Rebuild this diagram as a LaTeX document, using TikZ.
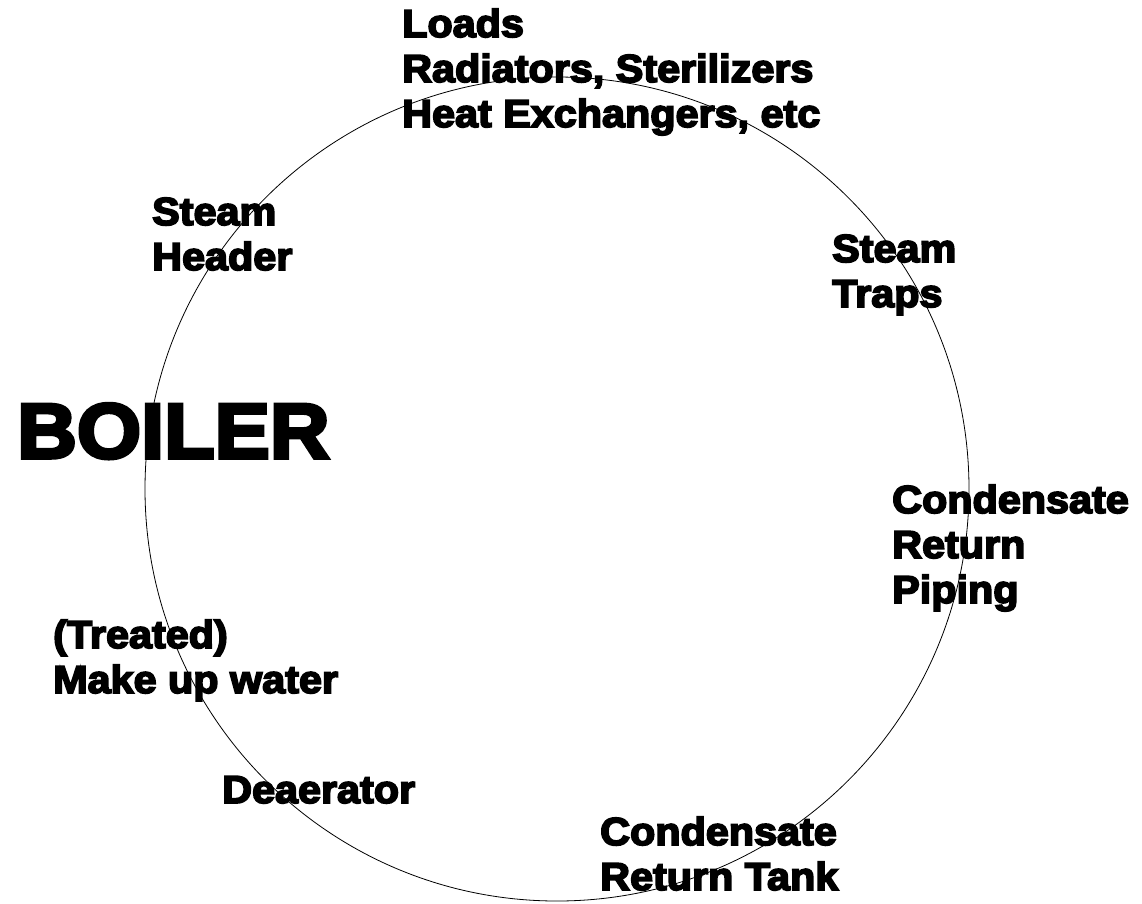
\documentclass[tikz,border=0pt]{standalone}
\usepackage{fontspec}
\newfontfamily\heavyfont{Liberation Sans Bold}[FakeStretch=1.06, FakeBold=4.5]

\begin{document}
\begin{tikzpicture}[x=1pt, y=-1pt,
    lbl/.style={anchor=base west, inner sep=0pt, align=left,
      font=\heavyfont\fontsize{39}{45}\selectfont}]
  \useasboundingbox (0,0) rectangle (1142,903);
  % the loop
  \coordinate (centre) at (557,489);
  \draw[line width=0.8pt] (centre) circle[radius=412pt];
  % labels round the loop (placed at the baseline of their last line)
  \node[lbl] (loads) at (402,127) {Loads\\Radiators, Sterilizers\\Heat Exchangers, etc};
  \node[lbl] (header) at (152,270) {Steam\\Header};
  \node[lbl] (traps) at (832,307) {Steam\\Traps};
  \node[lbl] (piping) at (892,603) {Condensate\\Return\\Piping};
  \node[lbl] (tank) at (600,890) {Condensate\\Return Tank};
  \node[lbl] (deaerator) at (222,803) {Deaerator};
  \node[lbl] (makeup) at (53,693) {(Treated)\\Make up water};
  \node[anchor=base west, inner sep=0pt, font=\heavyfont\fontsize{78}{90}\selectfont]
    (boiler) at (17,458) {BOILER};
\end{tikzpicture}
\end{document}
